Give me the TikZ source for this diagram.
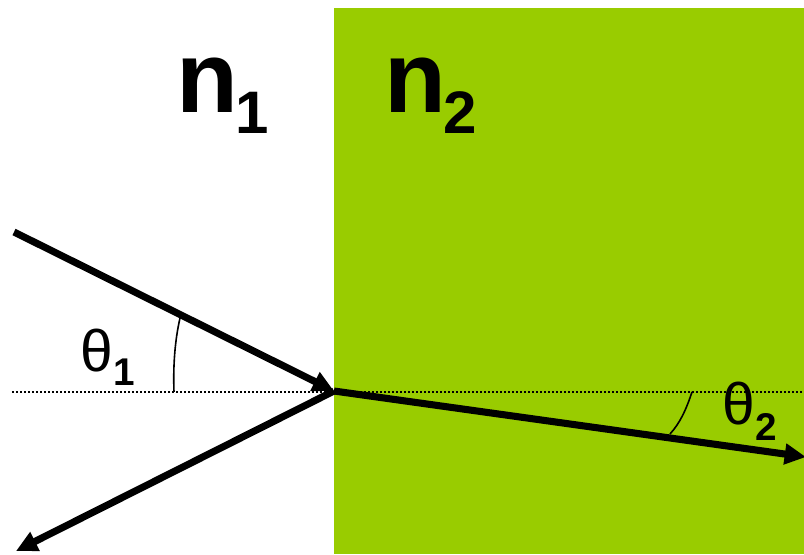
\documentclass[tikz,border=0pt]{standalone}
\usepackage{fontspec}
\setmainfont{Liberation Sans}
\usetikzlibrary{arrows.meta}
\definecolor{medgreen}{HTML}{99CC00}
\begin{document}
\begin{tikzpicture}[x=0.75pt,y=-0.75pt,
  ray/.style={line width=5.3pt,-{Triangle[length=16pt,width=15pt]}},
  dotline/.style={line width=1.4pt,dash pattern=on 1.3pt off 1.7pt},
  anglearc/.style={line width=1.2pt},
  lbl/.style={anchor=base west,inner sep=0pt,outer sep=0pt}]
\useasboundingbox (0,0) rectangle (804,554);
\fill[medgreen] (334,8) rectangle (804,554);
\coordinate (O) at (334,391);
\coordinate (A) at (14,232);
\coordinate (B) at (16,551);
\coordinate (C) at (806,457);
\coordinate (L) at (12,392);
\coordinate (R) at (804,392);
\draw[dotline] (L) -- (R);
\draw[ray] (A) -- (O);
\draw[ray] (O) -- (B);
\draw[ray] (O) -- (C);
\draw[anglearc] (174,392) .. controls (173,365) and (175,340) .. (180,318);
\draw[anglearc] (692,392) .. controls (686,410) and (680,423) .. (670,434);
\node[lbl] (n1) at (176,112) {\bfseries\fontsize{76}{76}\selectfont n\kern-1.5pt\raisebox{-15.75pt}{\fontsize{45}{45}\selectfont 1}};
\node[lbl] (n2) at (384,112) {\bfseries\fontsize{76}{76}\selectfont n\kern-1.5pt\raisebox{-15.75pt}{\fontsize{45}{45}\selectfont 2}};
\node[lbl] (t1) at (80,371) {\fontsize{44}{44}\selectfont θ\kern1pt\raisebox{-10.5pt}{\bfseries\fontsize{29}{29}\selectfont 1}};
\node[lbl] (t2) at (722,424) {\fontsize{44}{44}\selectfont θ\kern1pt\raisebox{-12pt}{\bfseries\fontsize{29}{29}\selectfont 2}};
\end{tikzpicture}
\end{document}
